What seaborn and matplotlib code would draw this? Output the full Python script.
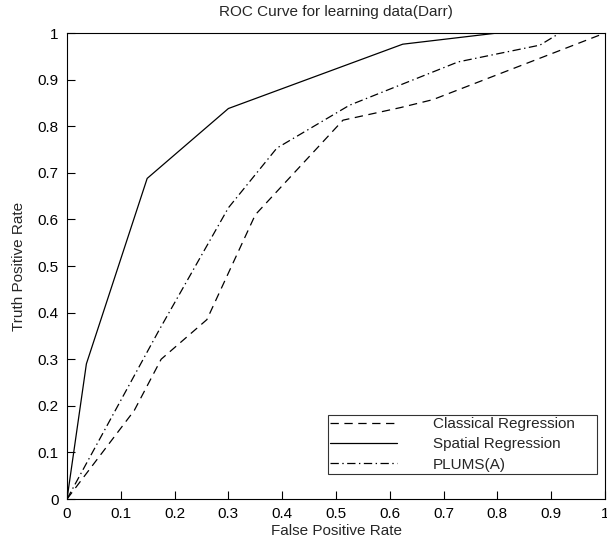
import numpy as np
import pandas as pd
import matplotlib
matplotlib.use("Agg")
import matplotlib.pyplot as plt
import seaborn as sns

# ROC points (false positive rate, true positive rate) for each method
classical_fpr = [0.0, 0.125, 0.175, 0.26, 0.35, 0.513, 0.62, 0.68, 1.0]
classical_tpr = [0.0, 0.19, 0.30, 0.385, 0.61, 0.813, 0.84, 0.857, 1.0]

spatial_fpr = [0.0, 0.036, 0.149, 0.30, 0.624, 0.80, 1.0]
spatial_tpr = [0.0, 0.29, 0.688, 0.838, 0.976, 1.0, 1.0]

plums_fpr = [0.0, 0.17, 0.30, 0.39, 0.525, 0.727, 0.879, 0.916, 1.0]
plums_tpr = [0.0, 0.36, 0.625, 0.753, 0.845, 0.938, 0.974, 1.0, 1.0]

methods = ["Classical Regression", "Spatial Regression", "PLUMS(A)"]
ticks = [0, 0.1, 0.2, 0.3, 0.4, 0.5, 0.6, 0.7, 0.8, 0.9, 1]
tick_labels = ["0", "0.1", "0.2", "0.3", "0.4", "0.5", "0.6", "0.7", "0.8", "0.9", "1"]

frames = []
for name, fx, fy in zip(methods,
                        [classical_fpr, spatial_fpr, plums_fpr],
                        [classical_tpr, spatial_tpr, plums_tpr]):
    frames.append(pd.DataFrame({"fpr": fx, "tpr": fy, "method": name}))
df = pd.concat(frames, ignore_index=True)

sns.set_theme(style="white")
plt.rcParams["font.family"] = ["Liberation Sans", "DejaVu Sans"]
plt.rcParams["lines.scale_dashes"] = False

fig = plt.figure(figsize=(6.07, 5.43), dpi=100)
ax = fig.add_axes([0.1104, 0.081, 0.8863, 0.8582])

sns.lineplot(data=df, x="fpr", y="tpr", hue="method", style="method",
             hue_order=methods, style_order=methods,
             palette={m: "black" for m in methods},
             dashes={methods[0]: (6, 4), methods[1]: "",
                     methods[2]: (6, 2.5, 1, 2.5)},
             estimator=None, sort=False, linewidth=0.9, ax=ax, legend=True)

ax.set_xlim(0, 1)
ax.set_ylim(0, 1)
ax.set_xticks(ticks)
ax.set_xticklabels(tick_labels)
ax.set_yticks(ticks)
ax.set_yticklabels(tick_labels)
ax.tick_params(axis="both", direction="in", length=6, width=0.8,
               labelsize=11, colors="black", pad=6)
ax.tick_params(top=False, right=False, bottom=True, left=True)
for s in ax.spines.values():
    s.set_color("black")
    s.set_linewidth(0.8)

ax.set_xlabel("False Positive Rate", fontsize=11, labelpad=2)
ax.set_ylabel("Truth Positive Rate", fontsize=11, labelpad=8)
ax.set_title("ROC Curve for learning data(Darr)", fontsize=11, pad=12)

handles, labels = ax.get_legend_handles_labels()
leg = ax.legend(handles, labels, loc="lower left",
                bbox_to_anchor=(0.485, 0.054, 0.5, 0.133), mode="expand",
                fontsize=11, frameon=True, fancybox=False, edgecolor="black",
                handlelength=4.4, handletextpad=2.3, labelspacing=0.4,
                borderpad=0.15, borderaxespad=0)
leg.get_frame().set_linewidth(0.8)

fig.savefig("out.png", dpi=100)
